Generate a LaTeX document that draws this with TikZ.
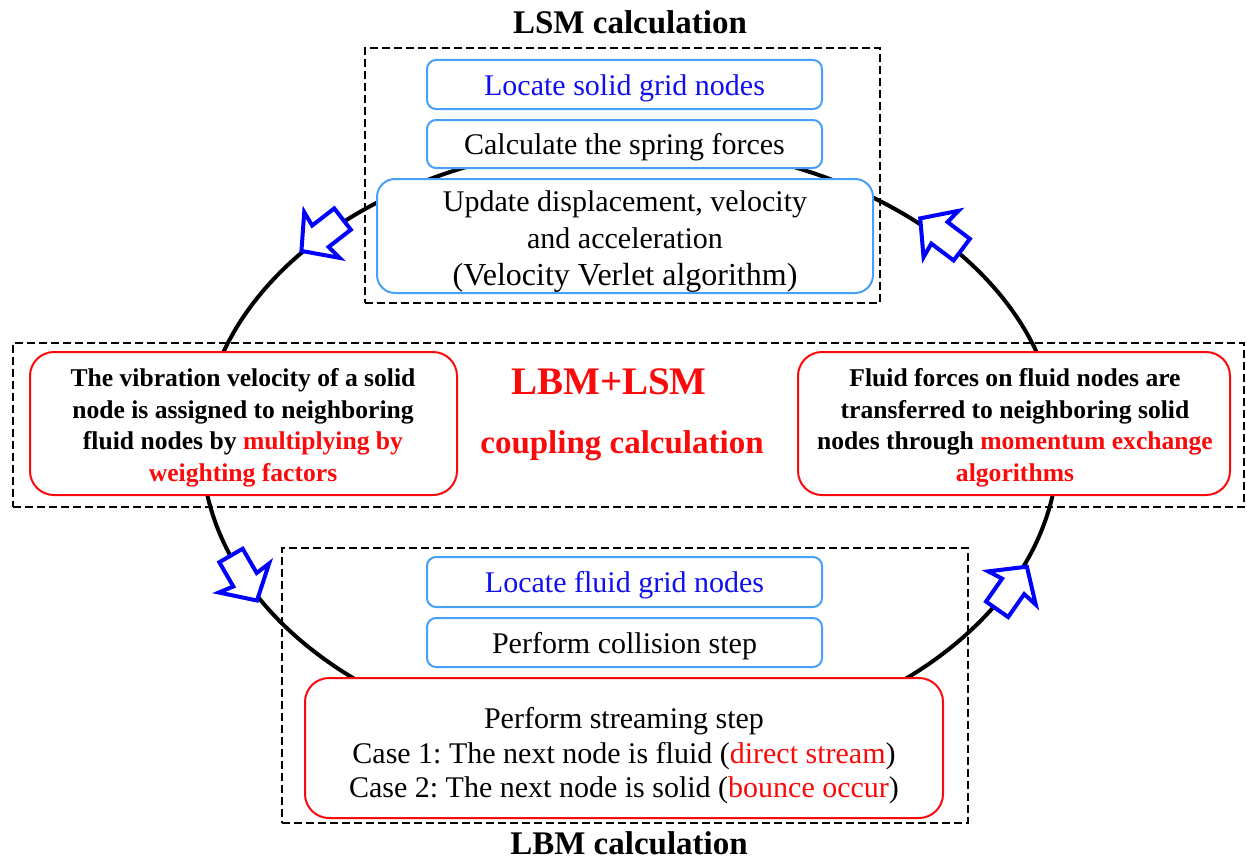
\documentclass[tikz,border=0pt]{standalone}
\usepackage{fontspec}
\setmainfont{Liberation Serif}
\frenchspacing
\definecolor{boxblue}{RGB}{70,160,250}
\definecolor{txtblue}{RGB}{15,15,240}
\definecolor{myred}{RGB}{250,10,10}
\tikzset{
  bluebox/.style={draw=boxblue, line width=2pt, rounded corners=9pt, fill=white, inner sep=0pt,
    font=\fontsize{30}{37}\selectfont, align=center, text height=23pt, text depth=2pt},
  redbox/.style={draw=myred, line width=2pt, rounded corners=24pt, fill=white, inner sep=0pt},
  dashbox/.style={draw=black, line width=2.5pt, dash pattern=on 8pt off 4pt, inner sep=0pt},
  title/.style={font=\bfseries\fontsize{33}{40}\selectfont},
  boldtxt/.style={font=\bfseries\fontsize{25.6}{31.5}\selectfont, align=center},
  flowarrow/.pic={\draw[blue, line width=4pt, fill=white, line join=miter]
     (26,0) -- (0,29) -- (2,13.5) -- (-26,13.5) -- (-26,-13.5) -- (2,-13.5) -- (0,-29) -- cycle;}
}
\begin{document}
\begin{tikzpicture}[x=1pt,y=-1pt]
\useasboundingbox (0,0) rectangle (1247,859);
\fill[white] (0,0) rectangle (1247,859);

% cycle
\draw[line width=4pt] (630,447) ellipse [x radius=428pt, y radius=303pt];

% flow arrows
\pic[rotate=217.8] at (322,235) {flowarrow};
\pic[rotate=143] at (941,234) {flowarrow};
\pic[rotate=-60] at (244,578) {flowarrow};
\pic[rotate=55] at (1012,588) {flowarrow};

% titles
\node[title] (lsmtitle) at (630,22) {LSM calculation};
\node[title] (lbmtitle) at (629,843) {LBM calculation};

% LSM block
\node[dashbox, minimum width=515pt, minimum height=255pt] (lsm) at (622.5,175.5) {};
\node[bluebox, minimum width=395pt, minimum height=49pt, text=txtblue] (locs) at (624.5,84.5) {Locate solid grid nodes};
\node[bluebox, minimum width=395pt, minimum height=48pt] (spring) at (624.5,144) {Calculate the spring forces};
\node[bluebox, rounded corners=18pt, minimum width=496pt, minimum height=114pt] (update) at (625,236) {};
\node[font=\fontsize{30}{37}\selectfont, align=center] (updtxt) at (625,242)
  {Update displacement, velocity\\and acceleration\\{\fontsize{32}{37}\selectfont(Velocity Verlet algorithm)}};

% coupling block
\node[dashbox, minimum width=1231pt, minimum height=164pt] (coupling) at (628.5,425) {};
\node[redbox, minimum width=427pt, minimum height=143pt] (left) at (243.5,423.5) {};
\node[boldtxt] (lefttxt) at (243,428)
  {The vibration velocity of a solid\\node is assigned to neighboring\\fluid nodes by \textcolor{myred}{multiplying by}\\\textcolor{myred}{weighting factors}};
\node[redbox, minimum width=432pt, minimum height=143pt] (right) at (1014,423.5) {};
\node[boldtxt] (righttxt) at (1015,428)
  {Fluid forces on fluid nodes are\\transferred to neighboring solid\\nodes through \textcolor{myred}{momentum exchange}\\\textcolor{myred}{algorithms}};
\node[text=myred, font=\bfseries\fontsize{39}{44}\selectfont, anchor=base] (coup1) at (609,394) {LBM+LSM};
\node[text=myred, font=\bfseries\fontsize{33}{44}\selectfont, anchor=base] (coup2) at (622,453) {coupling calculation};

% LBM block
\node[dashbox, minimum width=686pt, minimum height=275pt] (lbm) at (625,685.5) {};
\node[bluebox, minimum width=395pt, minimum height=50pt, text=txtblue] (locf) at (624.5,582) {Locate fluid grid nodes};
\node[bluebox, minimum width=395pt, minimum height=49pt] (collide) at (624.5,642.5) {Perform collision step};
\node[redbox, minimum width=638pt, minimum height=140pt] (stream) at (624,748) {};
\node[font=\fontsize{30}{34.5}\selectfont, align=center] (streamtxt) at (624,756)
  {Perform streaming step\\Case 1: The next node is fluid (\textcolor{myred}{direct stream})\\Case 2: The next node is solid (\textcolor{myred}{bounce occur})};
\end{tikzpicture}
\end{document}
